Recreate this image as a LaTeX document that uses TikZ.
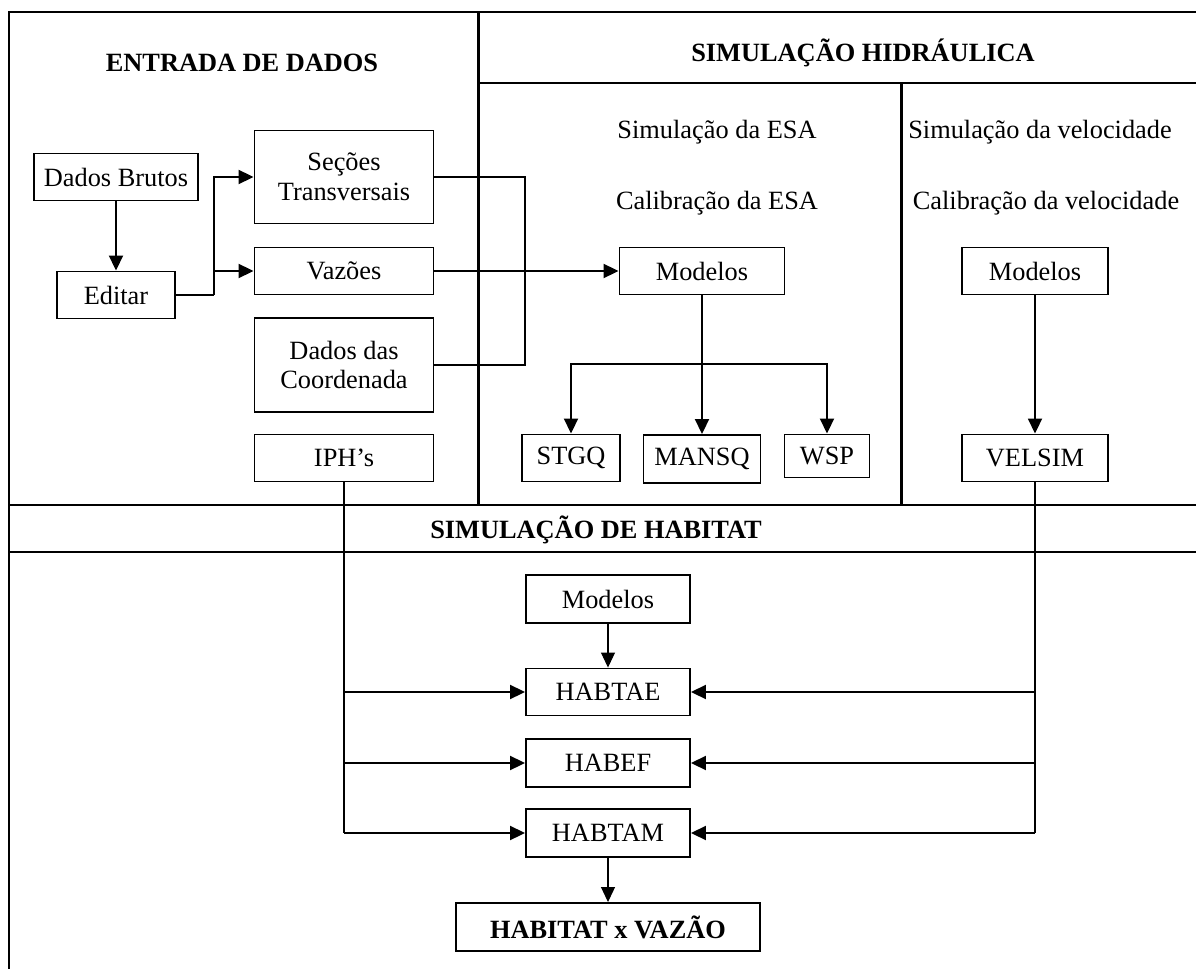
\documentclass[tikz,border=0pt]{standalone}
\usepackage{fontspec}
\setmainfont{Liberation Serif}
\usetikzlibrary{shapes,arrows.meta,positioning,calc}

\begin{document}
\begin{tikzpicture}[
    x=0.02cm, y=-0.02cm,
    >={Triangle[length=0.3cm,width=0.28cm]},
    every node/.style={font=\fontsize{15}{17}\selectfont},
    box/.style={rectangle, draw=black, line width=1.1pt, minimum height=0.94cm, inner sep=0pt, align=center},
    inbox/.style={box, minimum width=3.58cm},
    hbox/.style={box, minimum width=3.28cm},
    title/.style={font=\fontsize{15}{17}\selectfont\bfseries},
    frame/.style={line width=1.7pt},
    link/.style={line width=1.1pt},
    thinlink/.style={line width=0.6pt}
]
    \useasboundingbox (0,0) rectangle (1196,969);

    % Frame
    \draw[frame] (1196,12) -- (9,12) -- (9,969);
    \draw[frame] (478,12) -- (478,505);
    \draw[frame] (478,83) -- (1196,83);
    \draw[frame] (901,83) -- (901,505);
    \draw[frame] (9,505) -- (1196,505);
    \draw[frame] (9,552) -- (1196,552);

    % Titles
    \node[title] (tentrada) at (242,63) {ENTRADA DE DADOS};
    \node[title] (thidro) at (863,53) {SIMULAÇÃO HIDRÁULICA};
    \node[title] (thabitat) at (596,530) {SIMULAÇÃO DE HABITAT};

    % Entrada de dados
    \node[box, minimum width=3.28cm] (brutos) at (116,177) {Dados Brutos};
    \node[box, minimum width=2.36cm] (editar) at (116,295) {Editar};
    \node[inbox, minimum height=1.86cm] (secoes) at (344,177) {Seções\\Transversais};
    \node[inbox] (vazoes) at (344,271) {Vazões};
    \node[inbox, minimum height=1.88cm] (coord) at (344,365) {Dados das\\Coordenada};
    \node[inbox] (iph) at (344,458) {IPH’s};

    % Simulacao da ESA
    \node (simesa) at (717,132) {Simulação da ESA};
    \node (calesa) at (717,203) {Calibração da ESA};
    \node[box, minimum width=3.3cm] (modesa) at (702,271) {Modelos};
    \node[box, minimum width=1.96cm] (stgq) at (571,458) {STGQ};
    \node[box, minimum width=2.34cm, minimum height=0.96cm] (mansq) at (702,459) {MANSQ};
    \node[box, minimum width=1.7cm, minimum height=0.86cm] (wsp) at (827,456) {WSP};

    % Simulacao da velocidade
    \node (simvel) at (1040,132) {Simulação da velocidade};
    \node (calvel) at (1046,203) {Calibração da velocidade};
    \node[box, minimum width=2.92cm] (modvel) at (1035,271) {Modelos};
    \node[box, minimum width=2.92cm] (velsim) at (1035,458) {VELSIM};

    % Habitat
    \node[hbox, minimum height=0.96cm] (modhab) at (608,599) {Modelos};
    \node[hbox] (habtae) at (608,692) {HABTAE};
    \node[hbox, minimum height=0.96cm] (habef) at (608,763) {HABEF};
    \node[hbox, minimum height=0.96cm] (habtam) at (608,833) {HABTAM};
    \node[box, minimum width=6.08cm, minimum height=0.96cm, title] (final) at (608,927) {HABITAT x VAZÃO};

    % Arrows
    \coordinate (split) at (214,295);
    \coordinate (join) at (525,271);
    \coordinate (branch) at (702,364);
    \draw[link, ->] (brutos) -- (editar);
    \draw[link] (editar.east) -- (split);
    \draw[link, ->] (split) |- (secoes.west);
    \draw[link, ->] (split) |- (vazoes.west);
    \draw[link] (secoes.east) -| (join) |- (coord.east);
    \draw[link, ->] (vazoes) -- (modesa);
    \draw[link] (modesa) -- (branch);
    \draw[link, ->] (branch) -| (stgq.north);
    \draw[link, ->] (branch) -- (mansq);
    \draw[link, ->] (branch) -| (wsp.north);
    \draw[link, ->] (modvel) -- (velsim);

    \draw[thinlink] (iph.south) -- (iph |- habtam.west);
    \draw[thinlink] (velsim.south) -- (velsim |- habtam.east);
    \draw[link, ->] (iph |- habtae.west) -- (habtae.west);
    \draw[link, ->] (iph |- habef.west) -- (habef.west);
    \draw[link, ->] (iph |- habtam.west) -- (habtam.west);
    \draw[link, ->] (velsim |- habtae.east) -- (habtae.east);
    \draw[link, ->] (velsim |- habef.east) -- (habef.east);
    \draw[link, ->] (velsim |- habtam.east) -- (habtam.east);
    \draw[thinlink, ->] (modhab) -- (habtae);
    \draw[thinlink, ->] (habtam) -- (final);
\end{tikzpicture}
\end{document}
